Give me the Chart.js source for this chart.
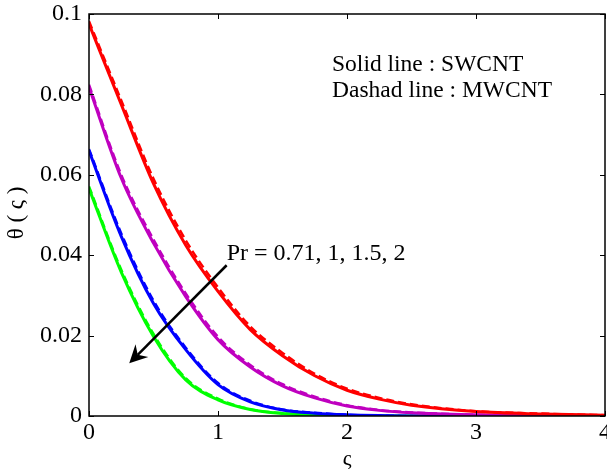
<!DOCTYPE html>
<html>
<head>
<meta charset="utf-8">
<script src="https://cdn.jsdelivr.net/npm/chart.js@4.4.1/dist/chart.umd.min.js"></script>
<style>
  html, body { margin: 0; padding: 0; background: #fff; overflow: hidden; }
  #wrap { width: 607px; height: 472px; }
</style>
</head>
<body>
<div id="wrap"><canvas id="chart"></canvas></div>
<script>
var xs = [0, 0.25, 0.5, 0.75, 1, 1.25, 1.5, 1.75, 2, 2.25, 2.5, 3, 3.5, 4];

// solid line : SWCNT
var swRed     = [0.0975, 0.0775, 0.0578, 0.0425, 0.0310, 0.0215, 0.0150, 0.0100, 0.0064, 0.0042, 0.0027, 0.0011, 0.0005, 0.0002];
var swMagenta = [0.0818, 0.0592, 0.0430, 0.0297, 0.0190, 0.0122, 0.0075, 0.0045, 0.0025, 0.0014, 0.0008, 0.0003, 0.0001, 0];
var swBlue    = [0.0660, 0.0447, 0.0280, 0.0165, 0.0078, 0.0035, 0.0015, 0.0007, 0.0003, 0.0001, 0, 0, 0, 0];
var swGreen   = [0.0566, 0.0358, 0.0198, 0.0090, 0.0040, 0.0016, 0.0006, 0.0002, 0.0001, 0, 0, 0, 0, 0];

// dashad line : MWCNT
var mwRed     = [0.0982, 0.0785, 0.0590, 0.0437, 0.0320, 0.0223, 0.0157, 0.0105, 0.0068, 0.0045, 0.0029, 0.0012, 0.0006, 0.0002];
var mwMagenta = [0.0824, 0.0600, 0.0439, 0.0305, 0.0197, 0.0127, 0.0079, 0.0048, 0.0027, 0.0015, 0.0009, 0.0003, 0.0001, 0];
var mwBlue    = [0.0664, 0.0454, 0.0287, 0.0170, 0.0082, 0.0038, 0.0016, 0.0008, 0.0003, 0.0001, 0, 0, 0, 0];
var mwGreen   = [0.0571, 0.0364, 0.0204, 0.0094, 0.0043, 0.0017, 0.0007, 0.0002, 0.0001, 0, 0, 0, 0, 0];

var xTicks = [0, 1, 2, 3, 4];
var yTicks = [0, 0.02, 0.04, 0.06, 0.08, 0.1];

var serif = '"Liberation Serif", "Times New Roman", serif';

function pts(ys) {
    return xs.map(function(x, i) { return {x: x, y: ys[i]}; });
}

function line(ys, color, dashed) {
    return {
        data: pts(ys),
        borderColor: color,
        borderWidth: dashed ? 2.5 : 3,
        borderDash: dashed ? [8, 4] : [],
        pointRadius: 0,
        fill: false,
        cubicInterpolationMode: 'monotone'
    };
}

// box, inward ticks, notes and the arrow
var decor = {
    id: 'decor',
    afterDraw: function(chart) {
        var ctx = chart.ctx, a = chart.chartArea;
        var sx = chart.scales.x, sy = chart.scales.y;
        ctx.save();
        ctx.strokeStyle = '#000';
        ctx.lineWidth = 1.5;
        ctx.strokeRect(a.left, a.top, a.right - a.left, a.bottom - a.top);
        ctx.lineWidth = 1;
        xTicks.forEach(function(t) {
            var px = Math.round(sx.getPixelForValue(t)) + 0.5;
            ctx.beginPath();
            ctx.moveTo(px, a.bottom); ctx.lineTo(px, a.bottom - 5);
            ctx.moveTo(px, a.top); ctx.lineTo(px, a.top + 5);
            ctx.stroke();
        });
        yTicks.forEach(function(t) {
            var py = Math.round(sy.getPixelForValue(t)) + 0.5;
            ctx.beginPath();
            ctx.moveTo(a.left, py); ctx.lineTo(a.left + 5, py);
            ctx.moveTo(a.right, py); ctx.lineTo(a.right - 5, py);
            ctx.stroke();
        });

        ctx.fillStyle = '#000';
        ctx.font = '23.5px ' + serif;
        ctx.textBaseline = 'alphabetic';
        ctx.textAlign = 'left';
        ctx.fillText('Solid line : SWCNT', sx.getPixelForValue(1.884), sy.getPixelForValue(0.0857));
        ctx.fillText('Dashad line : MWCNT', sx.getPixelForValue(1.884), sy.getPixelForValue(0.0793));
        ctx.font = '24px ' + serif;
        ctx.fillText('Pr = 0.71, 1, 1.5, 2', sx.getPixelForValue(1.067), sy.getPixelForValue(0.0388));

        // arrow with a notched head
        var x0 = sx.getPixelForValue(1.067), y0 = sy.getPixelForValue(0.0375);
        var x1 = sx.getPixelForValue(0.312), y1 = sy.getPixelForValue(0.0131);
        var ang = Math.atan2(y1 - y0, x1 - x0);
        var c = Math.cos(ang), s = Math.sin(ang);
        var hl = 18, hw = 9, notch = 12;
        var bx = x1 - hl * c, by = y1 - hl * s;
        var nx = x1 - notch * c, ny = y1 - notch * s;
        ctx.lineWidth = 2.5;
        ctx.beginPath();
        ctx.moveTo(x0, y0); ctx.lineTo(nx, ny);
        ctx.stroke();
        ctx.beginPath();
        ctx.moveTo(x1, y1);
        ctx.lineTo(bx + hw * s, by - hw * c);
        ctx.lineTo(nx, ny);
        ctx.lineTo(bx - hw * s, by + hw * c);
        ctx.closePath();
        ctx.fill();

        // y axis title
        ctx.font = '23px ' + serif;
        ctx.textAlign = 'center';
        ctx.textBaseline = 'middle';
        ctx.translate(17, (a.top + a.bottom) / 2 - 2);
        ctx.rotate(-Math.PI / 2);
        ctx.fillText('θ ( ς )', 0, 0);
        ctx.restore();
    }
};

var chart = new Chart(document.getElementById('chart'), {
    type: 'line',
    data: {
        datasets: [
            line(swRed, '#ff0000', false),
            line(mwRed, '#ff0000', true),
            line(swMagenta, '#bf00bf', false),
            line(mwMagenta, '#bf00bf', true),
            line(swBlue, '#0000ff', false),
            line(mwBlue, '#0000ff', true),
            line(swGreen, '#00ff00', false),
            line(mwGreen, '#00ff00', true)
        ]
    },
    options: {
        responsive: true,
        maintainAspectRatio: false,
        animation: false,
        layout: { padding: { top: 14, right: 2, left: 0, bottom: 0 } },
        plugins: { legend: { display: false }, tooltip: { enabled: false } },
        scales: {
            x: {
                type: 'linear',
                min: 0, max: 4,
                grid: { display: false, drawTicks: false },
                border: { display: false },
                ticks: {
                    stepSize: 1, padding: 2, color: '#000',
                    font: { family: serif, size: 24 }
                },
                title: {
                    display: true, text: 'ς', color: '#000', padding: { top: 0, bottom: 0 },
                    font: { family: serif, size: 22 }
                },
                afterFit: function(s) { s.height = 56; s.paddingRight = 0; s.paddingLeft = 0; }
            },
            y: {
                min: 0, max: 0.1,
                grid: { display: false, drawTicks: false },
                border: { display: false },
                ticks: {
                    stepSize: 0.02, padding: 7, color: '#000',
                    font: { family: serif, size: 24 },
                    callback: function(v) { return String(Number(v.toFixed(2))); }
                },
                afterFit: function(s) { s.width = 89; s.paddingTop = 0; s.paddingBottom = 0; }
            }
        }
    },
    plugins: [decor]
});
</script>
</body>
</html>
